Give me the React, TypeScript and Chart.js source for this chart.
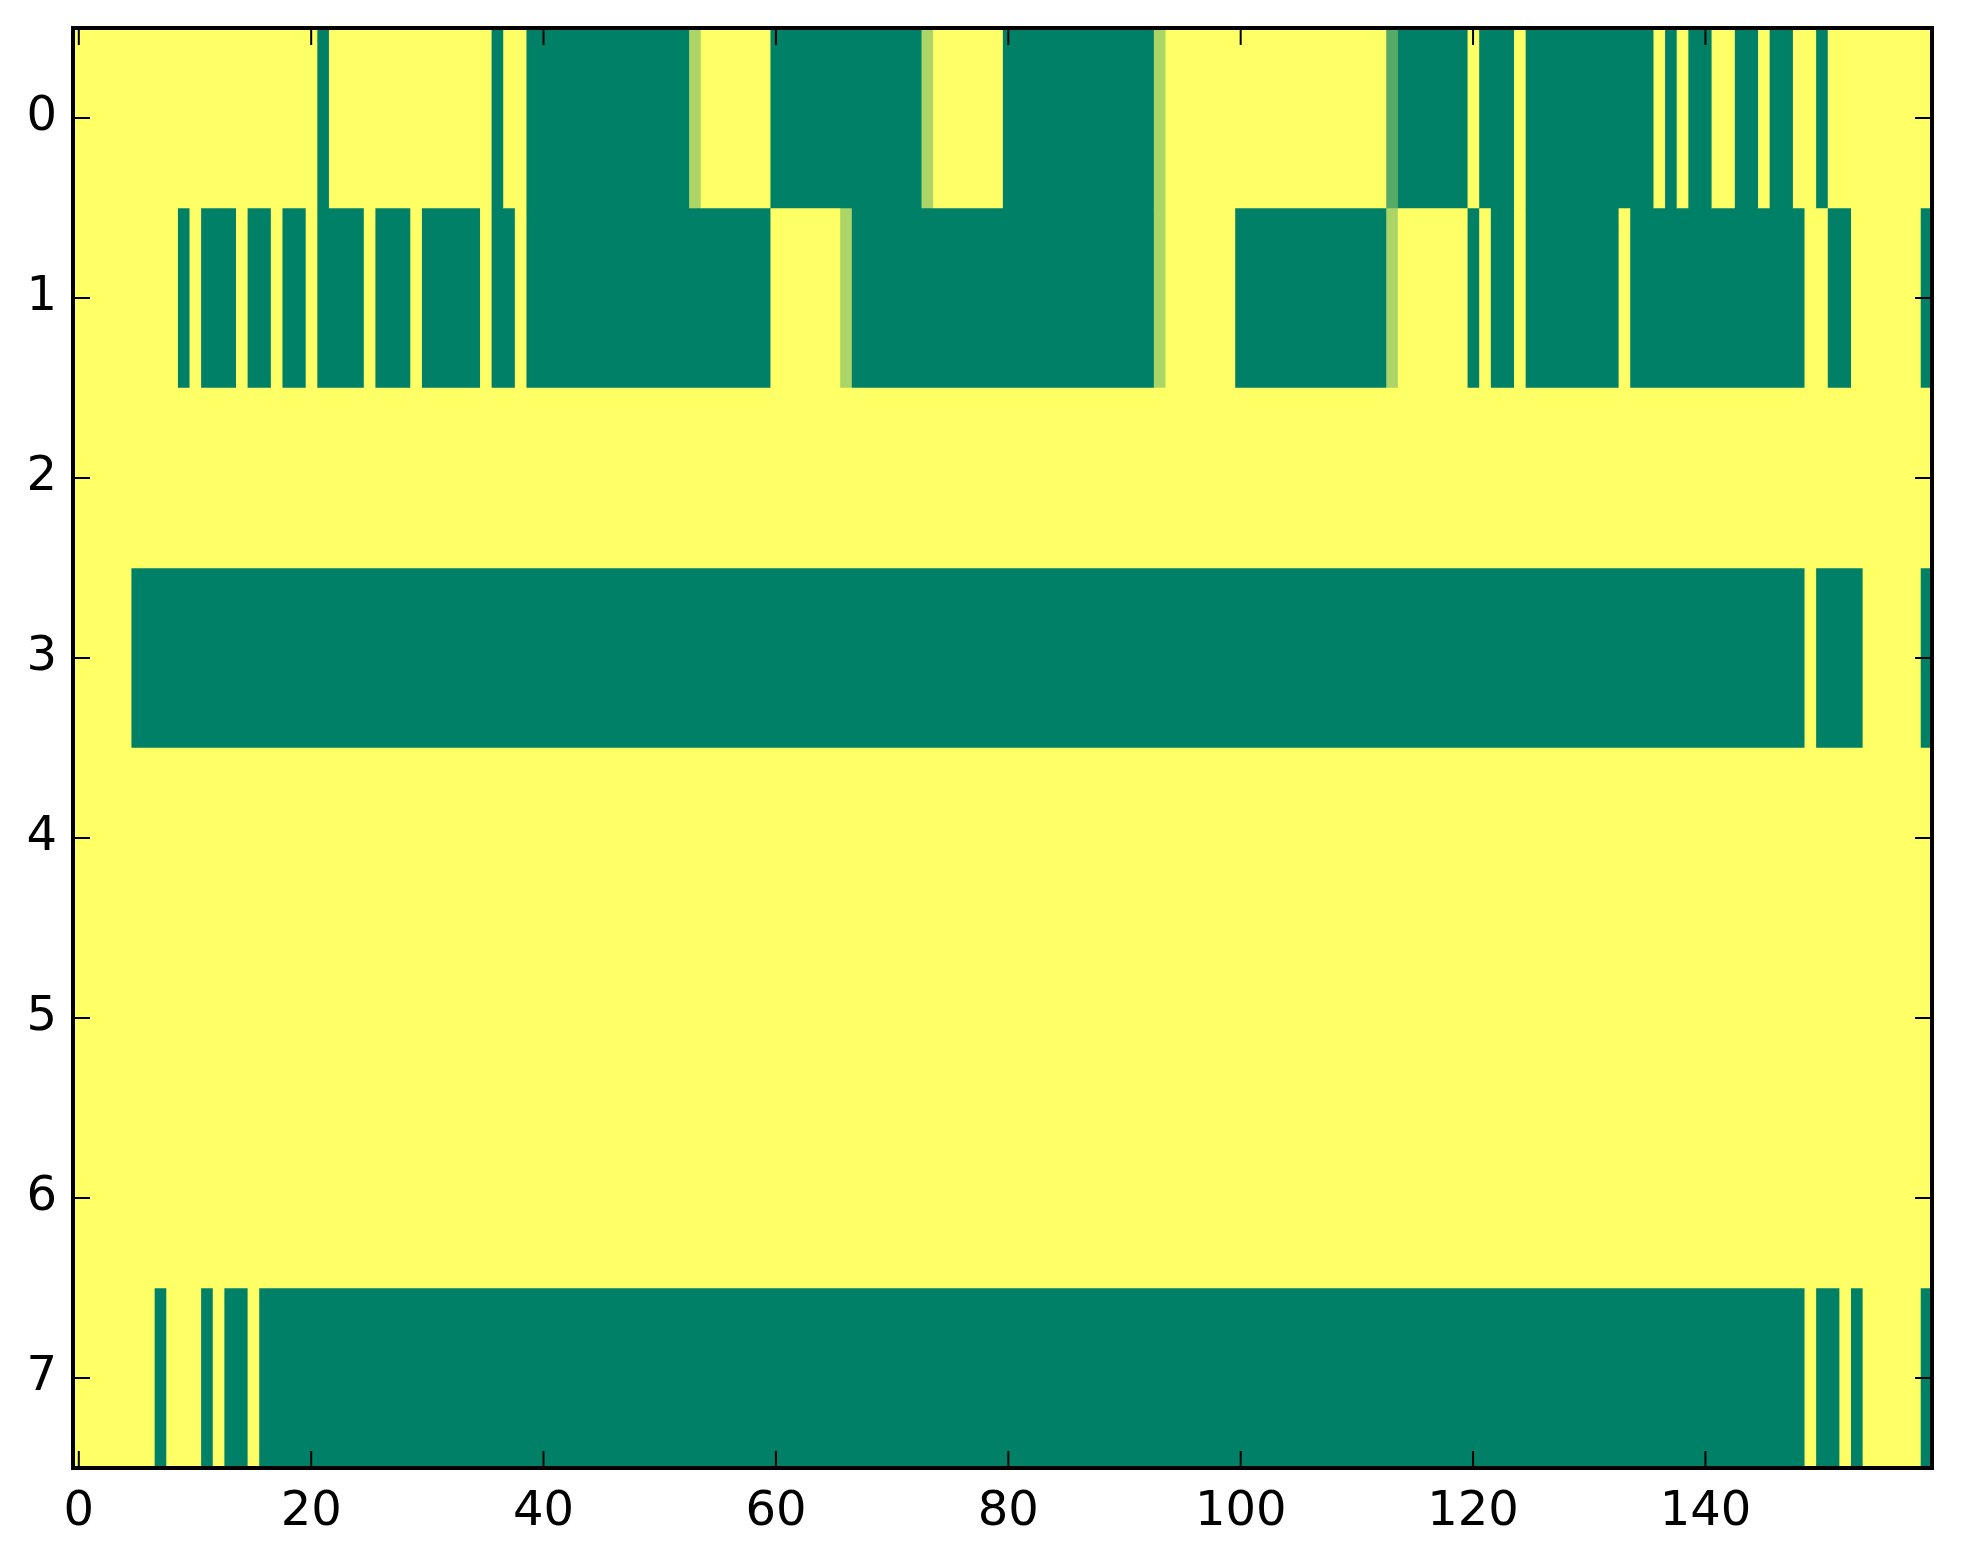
import React, { useEffect, useRef } from "react";
import { Chart, registerables } from "chart.js";

Chart.register(...registerables);

const rowLabels = ["0", "1", "2", "3", "4", "5", "6", "7"];
const xTickValues = [0, 20, 40, 60, 80, 100, 120, 140];

const row0 = [
  1,1,1,1,1,1,1,1,1,1,1,1,1,1,1,1,1,1,1,1,
  1,0,1,1,1,1,1,1,1,1,1,1,1,1,1,1,0,1,1,0,
  0,0,0,0,0,0,0,0,0,0,0,0,0,0.67,1,1,1,1,1,1,
  0,0,0,0,0,0,0,0,0,0,0,0,0,0.67,1,1,1,1,1,1,
  0,0,0,0,0,0,0,0,0,0,0,0,0,0.67,1,1,1,1,1,1,
  1,1,1,1,1,1,1,1,1,1,1,1,1,0.33,0,0,0,0,0,0,
  1,0,0,0,1,0,0,0,0,0,0,0,0,0,0,0,1,0,1,0,
  0,1,1,0,0,1,0,0,1,1,0,1,1,1,1,1,1,1,1,1,
];

const row1 = [
  1,1,1,1,1,1,1,1,1,0,1,0,0,0,1,0,0,1,0,0,
  1,0,0,0,0,1,0,0,0,1,0,0,0,0,0,1,0,0,1,0,
  0,0,0,0,0,0,0,0,0,0,0,0,0,0,0,0,0,0,0,0,
  1,1,1,1,1,1,0.67,0,0,0,0,0,0,0,0,0,0,0,0,0,
  0,0,0,0,0,0,0,0,0,0,0,0,0,0.67,1,1,1,1,1,1,
  0,0,0,0,0,0,0,0,0,0,0,0,0,0.67,1,1,1,1,1,1,
  0,1,0,0,1,0,0,0,0,0,0,0,0,1,0,0,0,0,0,0,
  0,0,0,0,0,0,0,0,0,1,1,0,0,1,1,1,1,1,1,0,
];

const row2 = [
  1,1,1,1,1,1,1,1,1,1,1,1,1,1,1,1,1,1,1,1,
  1,1,1,1,1,1,1,1,1,1,1,1,1,1,1,1,1,1,1,1,
  1,1,1,1,1,1,1,1,1,1,1,1,1,1,1,1,1,1,1,1,
  1,1,1,1,1,1,1,1,1,1,1,1,1,1,1,1,1,1,1,1,
  1,1,1,1,1,1,1,1,1,1,1,1,1,1,1,1,1,1,1,1,
  1,1,1,1,1,1,1,1,1,1,1,1,1,1,1,1,1,1,1,1,
  1,1,1,1,1,1,1,1,1,1,1,1,1,1,1,1,1,1,1,1,
  1,1,1,1,1,1,1,1,1,1,1,1,1,1,1,1,1,1,1,1,
];

const row3 = [
  1,1,1,1,1,0,0,0,0,0,0,0,0,0,0,0,0,0,0,0,
  0,0,0,0,0,0,0,0,0,0,0,0,0,0,0,0,0,0,0,0,
  0,0,0,0,0,0,0,0,0,0,0,0,0,0,0,0,0,0,0,0,
  0,0,0,0,0,0,0,0,0,0,0,0,0,0,0,0,0,0,0,0,
  0,0,0,0,0,0,0,0,0,0,0,0,0,0,0,0,0,0,0,0,
  0,0,0,0,0,0,0,0,0,0,0,0,0,0,0,0,0,0,0,0,
  0,0,0,0,0,0,0,0,0,0,0,0,0,0,0,0,0,0,0,0,
  0,0,0,0,0,0,0,0,0,1,0,0,0,0,1,1,1,1,1,0,
];

const row4 = [
  1,1,1,1,1,1,1,1,1,1,1,1,1,1,1,1,1,1,1,1,
  1,1,1,1,1,1,1,1,1,1,1,1,1,1,1,1,1,1,1,1,
  1,1,1,1,1,1,1,1,1,1,1,1,1,1,1,1,1,1,1,1,
  1,1,1,1,1,1,1,1,1,1,1,1,1,1,1,1,1,1,1,1,
  1,1,1,1,1,1,1,1,1,1,1,1,1,1,1,1,1,1,1,1,
  1,1,1,1,1,1,1,1,1,1,1,1,1,1,1,1,1,1,1,1,
  1,1,1,1,1,1,1,1,1,1,1,1,1,1,1,1,1,1,1,1,
  1,1,1,1,1,1,1,1,1,1,1,1,1,1,1,1,1,1,1,1,
];

const row5 = [
  1,1,1,1,1,1,1,1,1,1,1,1,1,1,1,1,1,1,1,1,
  1,1,1,1,1,1,1,1,1,1,1,1,1,1,1,1,1,1,1,1,
  1,1,1,1,1,1,1,1,1,1,1,1,1,1,1,1,1,1,1,1,
  1,1,1,1,1,1,1,1,1,1,1,1,1,1,1,1,1,1,1,1,
  1,1,1,1,1,1,1,1,1,1,1,1,1,1,1,1,1,1,1,1,
  1,1,1,1,1,1,1,1,1,1,1,1,1,1,1,1,1,1,1,1,
  1,1,1,1,1,1,1,1,1,1,1,1,1,1,1,1,1,1,1,1,
  1,1,1,1,1,1,1,1,1,1,1,1,1,1,1,1,1,1,1,1,
];

const row6 = [
  1,1,1,1,1,1,1,1,1,1,1,1,1,1,1,1,1,1,1,1,
  1,1,1,1,1,1,1,1,1,1,1,1,1,1,1,1,1,1,1,1,
  1,1,1,1,1,1,1,1,1,1,1,1,1,1,1,1,1,1,1,1,
  1,1,1,1,1,1,1,1,1,1,1,1,1,1,1,1,1,1,1,1,
  1,1,1,1,1,1,1,1,1,1,1,1,1,1,1,1,1,1,1,1,
  1,1,1,1,1,1,1,1,1,1,1,1,1,1,1,1,1,1,1,1,
  1,1,1,1,1,1,1,1,1,1,1,1,1,1,1,1,1,1,1,1,
  1,1,1,1,1,1,1,1,1,1,1,1,1,1,1,1,1,1,1,1,
];

const row7 = [
  1,1,1,1,1,1,1,0,1,1,1,0,1,0,0,1,0,0,0,0,
  0,0,0,0,0,0,0,0,0,0,0,0,0,0,0,0,0,0,0,0,
  0,0,0,0,0,0,0,0,0,0,0,0,0,0,0,0,0,0,0,0,
  0,0,0,0,0,0,0,0,0,0,0,0,0,0,0,0,0,0,0,0,
  0,0,0,0,0,0,0,0,0,0,0,0,0,0,0,0,0,0,0,0,
  0,0,0,0,0,0,0,0,0,0,0,0,0,0,0,0,0,0,0,0,
  0,0,0,0,0,0,0,0,0,0,0,0,0,0,0,0,0,0,0,0,
  0,0,0,0,0,0,0,0,0,1,0,0,1,0,1,1,1,1,1,0,
];

const rows = [row0, row1, row2, row3, row4, row5, row6, row7];

// matplotlib "summer" colormap
function summer(v: number): string {
  const r = Math.round(255 * v);
  const g = Math.round(255 * (0.5 + 0.5 * v));
  return `rgb(${r},${g},102)`;
}

type Run = { start: number; end: number; v: number };
function toRuns(values: number[]): Run[] {
  const out: Run[] = [];
  let s = 0;
  for (let i = 1; i <= values.length; i++) {
    if (i === values.length || values[i] !== values[s]) {
      out.push({ start: s, end: i - 1, v: values[s] });
      s = i;
    }
  }
  return out;
}

const FONT = "'DejaVu Sans', sans-serif";

export default function App() {
  const ref = useRef<HTMLCanvasElement | null>(null);

  useEffect(() => {
    if (!ref.current) return;
    const nCols = rows[0].length;
    const rowRuns = rows.map(toRuns);
    const maxRuns = Math.max(...rowRuns.map((r) => r.length));
    const datasets: any[] = [];
    for (let k = 0; k < maxRuns; k++) {
      datasets.push({
        data: rowRuns.map((rr) => (rr[k] ? [rr[k].start - 0.5, rr[k].end + 0.5] : null)),
        backgroundColor: rowRuns.map((rr) => (rr[k] ? summer(rr[k].v) : "rgba(0,0,0,0)")),
        borderWidth: 0,
        grouped: false,
        barPercentage: 1,
        categoryPercentage: 1,
      });
    }

    const frame = {
      id: "mplFrame",
      afterDraw(chart: any) {
        const ctx = chart.ctx;
        const { left, right, top, bottom } = chart.chartArea;
        const xs = chart.scales.x;
        const ys = chart.scales.y;
        const tl = 17;
        ctx.save();
        ctx.strokeStyle = "#000";
        ctx.lineWidth = 2;
        ctx.beginPath();
        xs.ticks.forEach((t: any) => {
          const px = xs.getPixelForValue(t.value);
          ctx.moveTo(px, bottom);
          ctx.lineTo(px, bottom - tl);
          ctx.moveTo(px, top);
          ctx.lineTo(px, top + tl);
        });
        ys.ticks.forEach((_t: any, i: number) => {
          const py = ys.getPixelForTick(i);
          ctx.moveTo(left, py);
          ctx.lineTo(left + tl, py);
          ctx.moveTo(right, py);
          ctx.lineTo(right - tl, py);
        });
        ctx.stroke();
        ctx.lineWidth = 4;
        ctx.strokeRect(left, top, right - left, bottom - top);
        ctx.restore();
      },
    };

    const zeroPad = (s: any) => {
      s.paddingTop = 0;
      s.paddingBottom = 0;
      s.paddingLeft = 0;
      s.paddingRight = 0;
    };

    const chart = new Chart(ref.current, {
      type: "bar",
      data: { labels: rowLabels, datasets },
      options: {
        indexAxis: "y",
        animation: false,
        responsive: false,
        events: [],
        layout: { padding: { top: 28, right: 31, left: 0, bottom: 0 } },
        plugins: { legend: { display: false }, tooltip: { enabled: false } },
        scales: {
          x: {
            type: "linear",
            position: "bottom",
            min: -0.5,
            max: nCols - 0.5,
            grid: { display: false },
            border: { display: false },
            afterBuildTicks: (s: any) => {
              s.ticks = xTickValues.map((v) => ({ value: v }));
            },
            afterFit: (s: any) => {
              s.height = 96;
              zeroPad(s);
            },
            ticks: {
              autoSkip: false,
              maxRotation: 0,
              minRotation: 0,
              padding: 13,
              color: "#000",
              font: { family: FONT, size: 48, lineHeight: 1 },
            },
          },
          y: {
            type: "category",
            position: "left",
            grid: { display: false },
            border: { display: false },
            afterFit: (s: any) => {
              s.width = 73;
              zeroPad(s);
            },
            ticks: {
              padding: 8,
              color: "#000",
              font: { family: FONT, size: 48, lineHeight: 1 },
            },
          },
        },
      } as any,
      plugins: [frame],
    });
    return () => chart.destroy();
  }, []);

  return (
    <div style={{ position: "absolute", left: 0, top: 0, width: 1963, height: 1564, background: "#fff" }}>
      <canvas ref={ref} width={1963} height={1564} style={{ display: "block" }} />
    </div>
  );
}
